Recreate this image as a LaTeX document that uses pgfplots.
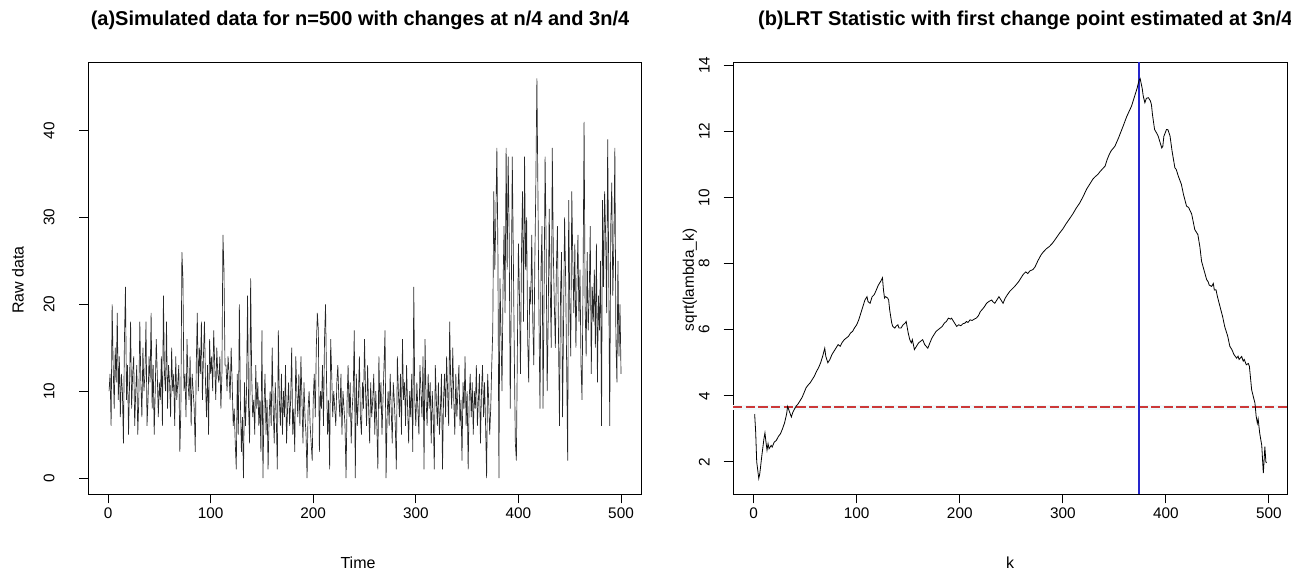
\documentclass[border=0pt]{standalone}
\usepackage{fontspec}
\setmainfont{Liberation Sans}
\usepackage{pgfplots}
\pgfplotsset{compat=1.18}
\definecolor{myred}{rgb}{0.8,0.22,0.22}
\definecolor{myblue}{rgb}{0.15,0.15,0.8}
\definecolor{mypale}{rgb}{0.94,0.975,0.99}
\begin{document}
\begin{tikzpicture}
\path[use as bounding box] (0,0) rectangle (968.25pt,429pt);
\pgfplotsset{
 rstyle/.style={
  scale only axis, anchor=south west,
  axis line style={line width=0.75pt},
  tick align=outside, xtick pos=bottom, ytick pos=left,
  major tick length=7pt, tick style={line width=0.75pt, black},
  ticklabel style={font=\fontsize{11.5}{13}\selectfont},
  /pgf/number format/assume math mode=true,
  yticklabel style={rotate=90, anchor=south},
  xticklabel style={anchor=north},
 }
}
\begin{axis}[rstyle, at={(66.4pt,58.5pt)}, width=414.75pt, height=324pt,
  xmin=-19, xmax=520, ymin=-1.84, ymax=47.9, yticklabel shift=15pt,
  xtick={0,100,...,500}, ytick={0,10,...,40}]
\addplot[color=black!85, line width=0.5pt] coordinates {
(1,10)(2,12)(3,6)(4,20)(5,13)(6,8)(7,15)(8,11)(9,19)(10,9)(11,14)(12,7)(13,12)(14,10)(15,4)(16,16)(17,22)(18,9)(19,13)(20,5)(21,11)(22,18)(23,8)(24,12)(25,14)
(26,6)(27,10)(28,13)(29,5)(30,9)(31,18)(32,11)(33,7)(34,15)(35,10)(36,12)(37,18)(38,6)(39,9)(40,14)(41,11)(42,19)(43,8)(44,13)(45,5)(46,10)(47,16)(48,12)(49,7)(50,11)
(51,9)(52,14)(53,6)(54,21)(55,12)(56,10)(57,18)(58,8)(59,13)(60,11)(61,7)(62,15)(63,10)(64,12)(65,6)(66,14)(67,9)(68,11)(69,13)(70,3)(71,8)(72,26)(73,23)(74,10)(75,12)
(76,7)(77,16)(78,11)(79,9)(80,14)(81,6)(82,12)(83,10)(84,8)(85,3)(86,13)(87,19)(88,10)(89,15)(90,12)(91,18)(92,9)(93,14)(94,18)(95,11)(96,7)(97,13)(98,5)(99,16)(100,12)
(101,14)(102,10)(103,17)(104,13)(105,9)(106,15)(107,12)(108,11)(109,14)(110,8)(111,12)(112,28)(113,24)(114,13)(115,13)(116,10)(117,14)(118,12)(119,9)(120,15)(121,11)(122,6)(123,8)(124,4)(125,1)
(126,12)(127,5)(128,20)(129,9)(130,3)(131,7)(132,0)(133,11)(134,6)(135,10)(136,21)(137,8)(138,4)(139,23)(140,12)(141,7)(142,9)(143,5)(144,13)(145,8)(146,11)(147,6)(148,9)(149,3)(150,17)
(151,0)(152,8)(153,12)(154,5)(155,9)(156,1)(157,7)(158,10)(159,6)(160,15)(161,8)(162,4)(163,11)(164,7)(165,1)(166,17)(167,9)(168,6)(169,12)(170,5)(171,10)(172,7)(173,13)(174,4)(175,8)
(176,11)(177,6)(178,9)(179,15)(180,5)(181,8)(182,3)(183,14)(184,10)(185,7)(186,12)(187,6)(188,14)(189,9)(190,4)(191,11)(192,7)(193,5)(194,0)(195,8)(196,10)(197,6)(198,4)(199,2)(200,9)
(201,12)(202,7)(203,15)(204,19)(205,17)(206,3)(207,10)(208,8)(209,13)(210,6)(211,16)(212,20)(213,11)(214,5)(215,9)(216,1)(217,16)(218,12)(219,7)(220,10)(221,8)(222,6)(223,11)(224,13)(225,9)
(226,7)(227,12)(228,5)(229,10)(230,8)(231,6)(232,0)(233,9)(234,13)(235,7)(236,11)(237,4)(238,8)(239,10)(240,17)(241,0)(242,12)(243,6)(244,9)(245,14)(246,7)(247,5)(248,11)(249,8)(250,16)
(251,10)(252,6)(253,13)(254,8)(255,4)(256,11)(257,7)(258,9)(259,12)(260,5)(261,10)(262,6)(263,1)(264,14)(265,8)(266,11)(267,5)(268,9)(269,13)(270,17)(271,0)(272,7)(273,10)(274,6)(275,12)
(276,8)(277,4)(278,11)(279,9)(280,6)(281,1)(282,14)(283,10)(284,7)(285,12)(286,5)(287,16)(288,9)(289,11)(290,6)(291,13)(292,8)(293,4)(294,10)(295,7)(296,12)(297,3)(298,22)(299,9)(300,6)
(301,11)(302,8)(303,5)(304,13)(305,10)(306,7)(307,14)(308,1)(309,16)(310,9)(311,6)(312,12)(313,8)(314,11)(315,4)(316,10)(317,7)(318,1)(319,13)(320,9)(321,6)(322,11)(323,5)(324,8)(325,12)
(326,1)(327,9)(328,12)(329,7)(330,14)(331,10)(332,6)(333,18)(334,11)(335,8)(336,15)(337,9)(338,5)(339,12)(340,7)(341,10)(342,13)(343,6)(344,9)(345,2)(346,11)(347,8)(348,14)(349,6)(350,10)
(351,1)(352,9)(353,12)(354,7)(355,11)(356,5)(357,10)(358,8)(359,13)(360,6)(361,9)(362,12)(363,4)(364,10)(365,13)(366,7)(367,11)(368,6)(369,0)(370,12)(371,9)(372,5)(373,8)(374,13)(375,17)
(376,33)(377,24)(378,30)(379,38)(380,26)(381,0)(382,23)(383,17)(384,10)(385,22)(386,29)(387,19)(388,38)(389,24)(390,37)(391,28)(392,8)(393,20)(394,37)(395,26)(396,14)(397,4)(398,2)(399,15)(400,27)
(401,21)(402,12)(403,26)(404,33)(405,18)(406,37)(407,24)(408,30)(409,16)(410,11)(411,22)(412,20)(413,28)(414,18)(415,13)(416,25)(417,34)(418,46)(419,33)(420,19)(421,8)(422,24)(423,29)(424,8)(425,21)
(426,37)(427,27)(428,10)(429,18)(430,31)(431,22)(432,15)(433,38)(434,26)(435,20)(436,15)(437,24)(438,29)(439,17)(440,6)(441,21)(442,26)(443,7)(444,18)(445,30)(446,23)(447,13)(448,2)(449,32)(450,20)
(451,14)(452,33)(453,25)(454,19)(455,27)(456,15)(457,22)(458,28)(459,18)(460,24)(461,13)(462,9)(463,23)(464,41)(465,20)(466,14)(467,26)(468,17)(469,21)(470,29)(471,12)(472,22)(473,18)(474,24)(475,15)
(476,27)(477,11)(478,21)(479,17)(480,25)(481,6)(482,32)(483,22)(484,33)(485,28)(486,19)(487,39)(488,24)(489,6)(490,29)(491,34)(492,21)(493,27)(494,38)(495,16)(496,11)(497,25)(498,14)(499,20)(500,12)
};
\end{axis}
\begin{axis}[rstyle, at={(549.75pt,58.5pt)}, width=415.5pt, height=324pt,
  xmin=-20, xmax=517.5, ymin=1.03, ymax=14.1, yticklabel shift=7pt,
  xtick={0,100,...,500}, ytick={2,4,...,14}]
\addplot[draw=mypale, line width=4pt, forget plot] coordinates {(-20,3.65)(517.5,3.65)};
\addplot[draw=myred, line width=1.5pt, dash pattern=on 7pt off 2.5pt, forget plot] coordinates {(-20,3.65)(517.5,3.65)};
\addplot[draw=myblue, line width=1pt, forget plot] coordinates {(374,1.03)(374,14.1)};
\addplot[draw=black, line width=0.6pt, forget plot] coordinates {
(1,3.45)(2,2.9)(3,2.0)(5,1.5)(6,1.65)(8,2.2)(10,2.7)(11,2.88)(12,2.6)(13,2.36)(14,2.55)(15,2.4)(17,2.5)(18,2.45)(20,2.6)(22,2.65)(24,2.77)(26,2.85)(28,3.0)(30,3.18)(32,3.45)(33,3.68)(35,3.5)(36.6,3.36)(38,3.5)(40,3.62)(41,3.68)(43,3.75)(45,3.85)(47,3.95)(49,4.1)(51,4.25)(53,4.33)(55,4.4)(57,4.5)(59,4.6)(61,4.74)(63,4.85)(65,5.0)(67,5.2)(69,5.44)(70,5.2)(72,5.0)(74,5.1)(76,5.25)(78,5.35)(80,5.45)(82,5.55)(84,5.5)(86,5.62)(88,5.7)(90,5.75)(92,5.8)(94,5.9)(96,5.95)(98,6.06)(100,6.15)(102,6.3)(104,6.5)(106,6.7)(108,6.9)(110,7.0)(111,6.85)(113,6.8)(115,7.0)(117,7.06)(119,7.2)(121,7.35)(123,7.45)(125,7.57)(126,7.2)(127,6.96)(128,7.0)(130,6.96)(131,6.9)(132,6.6)(134,6.2)(135,6.1)(137,6.05)(138,6.1)(140,6.15)(141,6.05)(143,6.05)(145,6.15)(147,6.2)(148,6.25)(150,5.9)(151.5,5.7)(153,5.6)(154,5.7)(156,5.4)(158,5.5)(160,5.6)(162,5.65)(164,5.7)(166,5.55)(169,5.44)(171,5.6)(173,5.75)(175,5.85)(177,5.95)(179,6.0)(181,6.05)(183,6.1)(185,6.2)(187,6.25)(189,6.35)(191,6.32)(192,6.35)(194,6.25)(195,6.2)(197,6.1)(199,6.15)(201,6.12)(203,6.18)(205,6.2)(206.5,6.25)(208,6.22)(210,6.3)(212,6.28)(214,6.32)(216,6.35)(218,6.42)(220,6.55)(222,6.62)(224,6.7)(226,6.8)(228,6.85)(231,6.9)(232,6.85)(234,6.8)(236,6.9)(238,7.0)(240,6.9)(242,6.8)(244,6.95)(246,7.05)(248.5,7.16)
(253,7.3)(257,7.45)(261.5,7.67)(264,7.75)(266,7.7)(268,7.78)(271,7.82)(273,7.9)(276,8.1)(279,8.27)(281,8.35)(284,8.45)(287,8.52)(290,8.62)(293,8.75)(297,8.93)(300,9.05)(303,9.2)(307,9.38)(310,9.52)(313,9.68)(316.5,9.84)(320,10.05)(323,10.25)(326,10.4)(329,10.55)(331,10.62)(334,10.7)(336,10.78)(338,10.85)(341,10.95)(343,11.15)(345,11.3)(347,11.42)(350.5,11.55)(354,11.8)(358.5,12.16)(362,12.45)(366.7,12.77)(369,13.0)(372,13.3)(374,13.55)(375,13.6)(376,13.45)(377,13.3)(378,13.07)(379.6,12.87)(381,13.0)(383,13.02)(385,12.92)(386,12.8)(387,12.5)(389,12.06)(391,11.95)(392.5,11.86)(394,11.7)(396,11.5)(397,11.55)(398,11.85)(400.6,12.06)(402,12.05)(404,11.86)(406,11.4)(408.7,10.9)(410,10.85)(412,10.65)(415,10.4)(417,10.1)(420,9.74)(422,9.7)(425,9.5)(428,9.03)(431,8.88)(433,8.5)(434.6,8.07)(437,7.8)(439.5,7.52)(441,7.45)(442,7.35)(444.4,7.31)(446,7.4)(447,7.2)(448.6,7.21)(450,7.0)(452.4,6.71)(455,6.4)(457,6.1)(460,5.8)(462,5.5)(464,5.4)(466,5.25)(468.6,5.14)(470,5.2)(471,5.1)(473.5,5.19)(475,5.05)(476,5.1)(478,4.94)(480,4.98)(481,4.89)(483.2,4.18)(485,3.95)(486.4,3.78)(487.5,3.4)(488.7,3.17)(489.5,3.3)(491,2.87)(493,2.5)(494.5,1.66)(495,1.9)(496,2.46)(497,2.0)(497.6,1.97)
};
\end{axis}
\node[font=\bfseries\fontsize{15}{18}\selectfont] at (270pt,414pt) {(a)Simulated data for n=500 with changes at n/4 and 3n/4};
\node[font=\bfseries\fontsize{15}{18}\selectfont] at (769pt,414pt) {(b)LRT Statistic with first change point estimated at 3n/4};
\node[font=\fontsize{12}{14}\selectfont] at (268.5pt,6.75pt) {Time};
\node[font=\fontsize{12}{14}\selectfont] at (757.5pt,6.75pt) {k};
\node[font=\fontsize{12}{14}\selectfont, rotate=90] at (13.5pt,219pt) {Raw data};
\node[font=\fontsize{11.5}{14}\selectfont, rotate=90] at (517.5pt,219pt) {sqrt(lambda\_k)};
\end{tikzpicture}
\end{document}
